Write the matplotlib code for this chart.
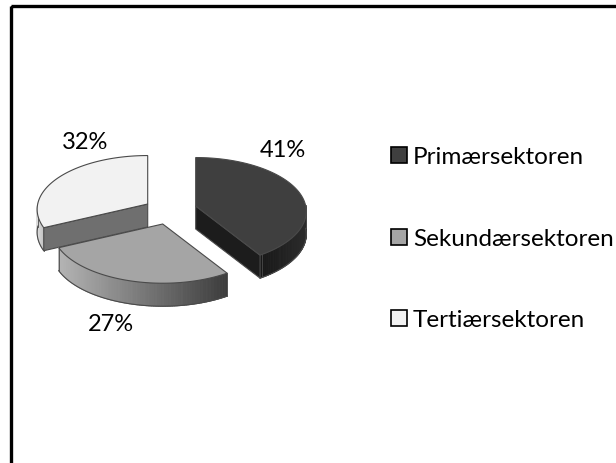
import numpy as np
import matplotlib
matplotlib.use("Agg")
import matplotlib.pyplot as plt
from matplotlib.patches import Polygon, Rectangle
from matplotlib.collections import PolyCollection

# Data
sectors = ["Primærsektoren", "Sekundærsektoren", "Tertiærsektoren"]
shares = [41, 27, 32]
share_labels = ["41%", "27%", "32%"]

# Fake 3D look of the pie, all in pixels
APEX = [(195.7, 207.0), (162.7, 225.0), (147.7, 205.0)]
RX, RY = 110.0, 53.3
PERSP = 0.10
DEPTH = 23.0

TOP_COLORS = ["#3f3f3f", "#a5a5a5", "#f2f2f2"]
CUT_COLORS = ["#1c1c1c", None, "#6f6f6f"]
# wall shading, left colour then right colour
WALL_COLORS = [("#181818", "#2c2c2c"), ("#b4b4b4", "#3c3c3c"), ("#dcdcdc", "#c0c0c0")]
EDGE = "#4a4a4a"

# label baselines
LABEL_POS = [(283, 157), (110.5, 331), (85.5, 149)]
LEGEND_BASE = [164, 246, 327]
LEGEND_MID = [156, 238, 319]


def project(apex, angle, r=1.0):
    # angle in radians, clockwise from the top of the pie
    x = r * np.sin(angle)
    near = -r * np.cos(angle)
    s = 1.0 / (1.0 - PERSP * near)
    return apex[0] + RX * x * s, apex[1] + RY * near * s


def mix(c1, c2, t):
    a = np.array(matplotlib.colors.to_rgb(c1))
    b = np.array(matplotlib.colors.to_rgb(c2))
    return a + (b - a) * t


def draw_slice(ax, start, end, idx, zbase):
    apex = APEX[idx]
    angles = np.linspace(start, end, 120)
    px, py = project(apex, angles)

    # outer wall, only the part that faces the viewer
    quads, cols = [], []
    vis = [i for i in range(len(angles) - 1) if np.cos((angles[i] + angles[i + 1]) / 2) < 0.02]
    x_lo, x_hi = min(px[i] for i in vis) if vis else 0, max(px[i] for i in vis) if vis else 1
    for i in vis:
        quads.append([(px[i], py[i]), (px[i + 1], py[i + 1]),
                      (px[i + 1], py[i + 1] + DEPTH), (px[i], py[i] + DEPTH)])
        # shading runs left to right across the wall
        cols.append(mix(*WALL_COLORS[idx], (px[i] - x_lo) / (x_hi - x_lo)))
    if quads:
        ax.add_collection(PolyCollection(quads, facecolors=cols, edgecolors=cols, linewidths=0.7, zorder=zbase))
        low_x = [q[3][0] for q in quads] + [quads[-1][2][0]]
        low_y = [q[3][1] for q in quads] + [quads[-1][2][1]]
        ax.plot(low_x, low_y, color=EDGE, lw=0.8, zorder=zbase + 0.1)
        # upright edges at both ends of the wall
        for q in (quads[0], quads[-1]):
            ax.plot([q[0][0], q[3][0]], [q[0][1], q[3][1]], color=EDGE, lw=0.6, zorder=zbase + 0.1)

    # cut face on the viewer's side
    cut = CUT_COLORS[idx]
    if cut is not None:
        a = end if idx == 0 else start
        ex, ey = project(apex, a)
        ax.add_patch(Polygon([apex, (ex, ey), (ex, ey + DEPTH), (apex[0], apex[1] + DEPTH)],
                             facecolor=cut, edgecolor=EDGE, lw=0.8, zorder=zbase + 0.2))

    # top face
    verts = [apex] + list(zip(px, py))
    ax.add_patch(Polygon(verts, facecolor=TOP_COLORS[idx], edgecolor=EDGE, lw=0.8, zorder=zbase + 0.3))


fig = plt.figure(figsize=(6.16, 4.64), dpi=100)
ax = fig.add_axes([0, 0, 1, 1])
ax.set_xlim(0, 616)
ax.set_ylim(464, 0)
ax.axis("off")

# chart frame, runs past the image on the right and the bottom
ax.add_patch(Rectangle((11, 7.3), 700, 600, fill=False, edgecolor="black", lw=2.4, zorder=1))

total = sum(shares)
bounds = np.cumsum([0] + shares) / total * 2 * np.pi
# white one goes first, it sits behind the grey one
z_order = [5, 4, 3]
for i in [2, 0, 1]:
    draw_slice(ax, bounds[i], bounds[i + 1], i, z_order[i])

for (lx, ly), txt in zip(LABEL_POS, share_labels):
    ax.text(lx, ly, txt, fontsize=17, ha="center", va="baseline", color="black", family="Lato", zorder=10)

for name, color, yb, ym in zip(sectors, TOP_COLORS, LEGEND_BASE, LEGEND_MID):
    ax.add_patch(Rectangle((391.2, ym - 7.7), 15.5, 15.5, facecolor=color, edgecolor="black", lw=1.2, zorder=10))
    ax.text(413, yb, name, fontsize=17.5, ha="left", va="baseline", color="black", family="Lato", zorder=10)

fig.savefig("out.png", dpi=100)
